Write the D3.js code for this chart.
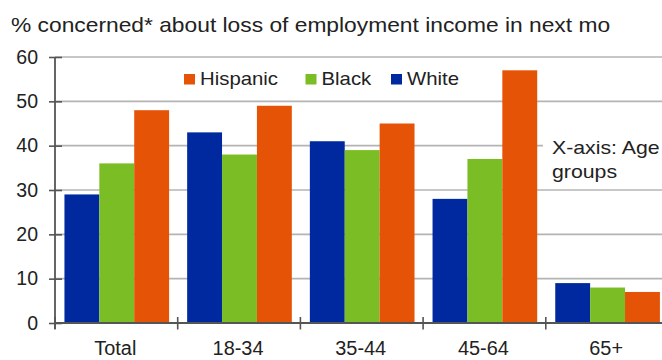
<!DOCTYPE html>
<html>
<head>
<meta charset="utf-8">
<script src="https://cdn.jsdelivr.net/npm/d3@7/dist/d3.min.js"></script>
<style>
  html, body { margin: 0; padding: 0; background: #fff; }
  svg { display: block; font-family: "Liberation Sans", Arial, sans-serif; }
</style>
</head>
<body>
<svg id="chart" width="662" height="360"></svg>
<script>
// Age groups along the x axis
const categories = ["Total", "18-34", "35-44", "45-64", "65+"];
// Series in drawing order (left to right inside each group)
const seriesNames = ["White", "Black", "Hispanic"];
const whiteValues = [29, 43, 41, 28, 9];
const blackValues = [36, 38, 39, 37, 8];
const hispanicValues = [48, 49, 45, 57, 7];
const yTicks = [0, 10, 20, 30, 40, 50, 60];
const legendOrder = ["Hispanic", "Black", "White"];

const colors = { White: "#0029a0", Black: "#7bbd24", Hispanic: "#e55306" };
const valuesBySeries = { White: whiteValues, Black: blackValues, Hispanic: hispanicValues };

const svg = d3.select("#chart");
const plotLeft = 55, plotBottom = 323, plotTop = 57;
const bandW = 122.7;

// Widen a text element horizontally by a factor (glyphs are stretched, not just spaced)
function stretch(sel, k) {
  sel.each(function () {
    const w = this.getComputedTextLength();
    d3.select(this).attr("textLength", w * k).attr("lengthAdjust", "spacingAndGlyphs");
  });
}

const x = d3.scaleBand().domain(categories).range([plotLeft, plotLeft + bandW * categories.length]).padding(0);
const xInner = d3.scaleBand().domain(seriesNames)
  .range([x.bandwidth() * 0.077, x.bandwidth() * 0.93]).padding(0);
const y = d3.scaleLinear().domain([0, 60]).range([plotBottom, plotTop]);

// Gridlines
svg.append("g").selectAll("line").data(yTicks.filter(d => d > 0)).join("line")
  .attr("x1", plotLeft).attr("x2", 662)
  .attr("y1", d => y(d)).attr("y2", d => y(d))
  .attr("stroke", "#b4b4b4").attr("stroke-width", 1.6);

// Y axis
const yAxis = d3.axisLeft(y).tickValues(yTicks).tickSizeInner(6).tickSizeOuter(0).tickPadding(11);
const gy = svg.append("g").attr("transform", `translate(${plotLeft},0)`).call(yAxis);
gy.select(".domain").attr("stroke", "#555").attr("stroke-width", 1.8)
  .attr("d", `M0,${plotTop}V${plotBottom + 6}`);
gy.selectAll(".tick line").attr("stroke", "#555").attr("stroke-width", 1.6).attr("x1", -6).attr("x2", 7);
gy.selectAll(".tick text").attr("fill", "#222").style("font-size", "19.5px")
  .style("font-family", "'Liberation Sans', Arial, sans-serif");

// Bars
const rows = categories.map((c, i) => ({ cat: c, vals: seriesNames.map(s => ({ s, v: valuesBySeries[s][i] })) }));
const groups = svg.append("g").selectAll("g").data(rows).join("g")
  .attr("transform", d => `translate(${x(d.cat)},0)`);
groups.selectAll("rect").data(d => d.vals).join("rect")
  .attr("x", d => xInner(d.s))
  .attr("width", xInner.bandwidth())
  .attr("y", d => y(d.v))
  .attr("height", d => y(0) - y(d.v))
  .attr("fill", d => colors[d.s]);

// X axis with tick marks at group boundaries
svg.append("line").attr("x1", plotLeft).attr("x2", 662).attr("y1", plotBottom).attr("y2", plotBottom)
  .attr("stroke", "#555").attr("stroke-width", 1.8);
const bounds = categories.map(c => x(c));
svg.append("g").selectAll("line").data(bounds).join("line")
  .attr("x1", d => d).attr("x2", d => d)
  .attr("y1", plotBottom - 6).attr("y2", plotBottom + 6.5)
  .attr("stroke", "#555").attr("stroke-width", 1.6);
svg.append("g").selectAll("text").data(categories).join("text")
  .attr("x", d => x(d) + x.bandwidth() / 2 - 1)
  .attr("y", 354.5)
  .attr("text-anchor", "middle")
  .attr("fill", "#222")
  .style("font-size", "19.5px")
  .text(d => d)
  .call(stretch, 1.02);

// Subtitle
svg.append("text").attr("x", 11).attr("y", 32)
  .attr("fill", "#222").style("font-size", "21px")
  .text("% concerned* about loss of employment income in next mo")
  .call(stretch, 1.085);

// Legend
const legendPos = { Hispanic: 184, Black: 305.5, White: 391 };
const lg = svg.append("g");
legendOrder.forEach(s => {
  lg.append("rect").attr("x", legendPos[s]).attr("y", 74).attr("width", 11).attr("height", 10.5)
    .attr("fill", colors[s]);
  lg.append("text").attr("x", legendPos[s] + 16).attr("y", 84.5)
    .attr("fill", "#222").style("font-size", "18.5px").text(s)
    .call(stretch, 1.1);
});

// Axis note
svg.append("rect").attr("x", 543).attr("y", 128).attr("width", 119).attr("height", 58).attr("fill", "#fff");
const note = svg.append("g").attr("fill", "#222").style("font-size", "19px");
note.append("text").attr("x", 552).attr("y", 154).text("X-axis: Age").call(stretch, 1.12);
note.append("text").attr("x", 552).attr("y", 177.5).text("groups").call(stretch, 1.12);
</script>
</body>
</html>
